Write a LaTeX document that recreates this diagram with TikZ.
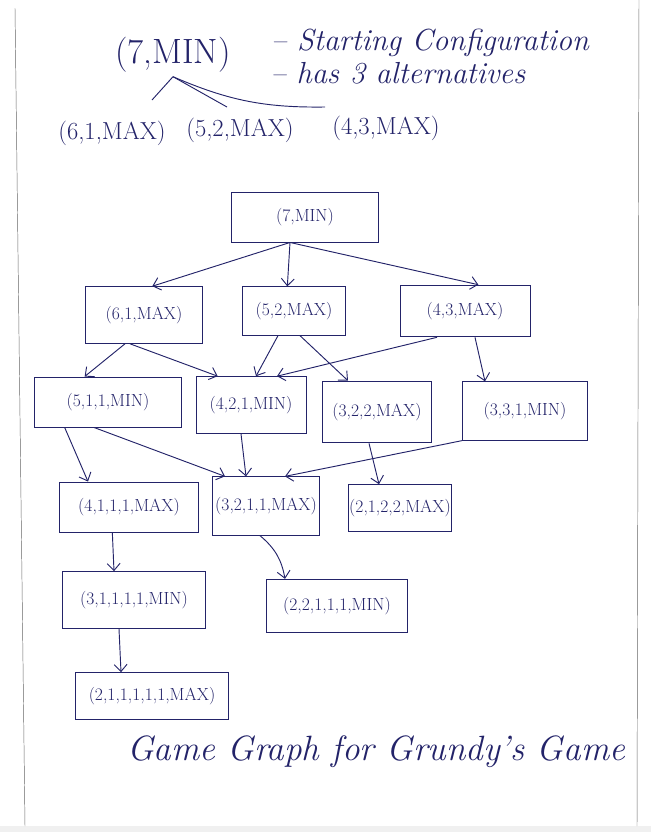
\documentclass[tikz,border=0pt]{standalone}
\usepackage{tikz}
\usetikzlibrary{arrows.meta}

\definecolor{ink}{RGB}{35,35,105}

\tikzset{
  state/.style={draw=ink, thick, text=ink, inner sep=1pt, font=\fontsize{15}{18}\selectfont},
  move/.style={draw=ink, thick, -{Straight Barb[length=6pt,width=11pt]}},
  note/.style={text=ink, font=\fontsize{26}{30}\selectfont\itshape},
  alt/.style={text=ink, font=\fontsize{21}{25}\selectfont},
}

\begin{document}
\begin{tikzpicture}[x=0.03cm,y=-0.03cm]
  \useasboundingbox (0,0) rectangle (651,832);
  % page edges
  \fill[gray!12] (0,826) rectangle (651,832);
  \draw[gray!80!black] (15,8) -- (25,826);
  \draw[gray!80!black] (639,0) -- (637,826);
  % header notes
  \node[text=ink, font=\fontsize{30}{34}\selectfont] (hmin) at (173,55) {(7,MIN)};
  \node[note] (hstart) at (430,43) {-- Starting Configuration};
  \node[note] (halt) at (398,73) {-- has 3 alternatives};
  \node[alt] (h61) at (112,133) {(6,1,MAX)};
  \node[alt] (h52) at (240,130) {(5,2,MAX)};
  \node[alt] (h43) at (386,128) {(4,3,MAX)};
  \coordinate (c61) at (152,100);
  \coordinate (c52) at (227,107);
  \coordinate (c43) at (325,107);
  \draw[ink, thick] (hmin.south) -- (c61);
  \draw[ink, thick] (hmin.south) -- (c52);
  \draw[ink, thick] (hmin.south) to[bend right=12] (c43);
  % game graph
  \node[state, minimum width=4.4cm, minimum height=1.5cm] (top) at (305,217) {(7,MIN)};
  \node[state, minimum width=3.5cm, minimum height=1.7cm] (n61) at (144,315) {(6,1,MAX)};
  \node[state, minimum width=3.1cm, minimum height=1.45cm] (n52) at (294,311) {(5,2,MAX)};
  \node[state, minimum width=3.9cm, minimum height=1.55cm] (n43) at (465,311) {(4,3,MAX)};
  \node[state, minimum width=4.4cm, minimum height=1.5cm] (n511) at (108,402) {(5,1,1,MIN)};
  \node[state, minimum width=3.3cm, minimum height=1.7cm] (n421) at (251,405) {(4,2,1,MIN)};
  \node[state, minimum width=3.25cm, minimum height=1.85cm] (n322) at (377,412) {(3,2,2,MAX)};
  \node[state, minimum width=3.75cm, minimum height=1.75cm] (n331) at (525,411) {(3,3,1,MIN)};
  \node[state, minimum width=4.15cm, minimum height=1.5cm] (n4111) at (129,507) {(4,1,1,1,MAX)};
  \node[state, minimum width=3.2cm, minimum height=1.75cm] (n3211) at (266,506) {(3,2,1,1,MAX)};
  \node[state, minimum width=2.9cm, minimum height=1.4cm] (n2122) at (400,508) {(2,1,2,2,MAX)};
  \node[state, minimum width=4.3cm, minimum height=1.7cm] (n31111) at (134,600) {(3,1,1,1,1,MIN)};
  \node[state, minimum width=4.25cm, minimum height=1.6cm] (n22111) at (337,606) {(2,2,1,1,1,MIN)};
  \node[state, minimum width=4.6cm, minimum height=1.4cm] (n211111) at (152,696) {(2,1,1,1,1,1,MAX)};
  % moves
  \draw[move] ([xshift=-0.45cm]top.south) -- ([xshift=0.25cm]n61.north);
  \draw[move] ([xshift=-0.45cm]top.south) -- ([xshift=-0.2cm]n52.north);
  \draw[move] ([xshift=-0.45cm]top.south) -- ([xshift=0.4cm]n43.north);
  \draw[move] ([xshift=-0.57cm]n61.south) -- ([xshift=-0.7cm]n511.north);
  \draw[move] ([xshift=-0.42cm]n61.south) -- ([xshift=-1cm]n421.north);
  \draw[move] ([xshift=-0.48cm]n52.south) -- ([xshift=0.15cm]n421.north);
  \draw[move] ([xshift=0.18cm]n52.south) -- ([xshift=-0.87cm]n322.north);
  \draw[move] ([xshift=-0.84cm]n43.south) -- ([xshift=0.78cm]n421.north);
  \draw[move] ([xshift=0.3cm]n43.south) -- ([xshift=-1.2cm]n331.north);
  \draw[move] ([xshift=-1.3cm]n511.south) -- ([xshift=-1.23cm]n4111.north);
  \draw[move] ([xshift=-0.42cm]n511.south) -- ([xshift=-1.23cm]n3211.north);
  \draw[move] ([xshift=-0.3cm]n421.south) -- ([xshift=-0.6cm]n3211.north);
  \draw[move] (n331.south west) -- ([xshift=0.57cm]n3211.north);
  \draw[move] ([xshift=-0.24cm]n322.south) -- ([xshift=-0.63cm]n2122.north);
  \draw[move] ([xshift=-0.5cm]n4111.south) -- ([xshift=-0.6cm]n31111.north);
  \draw[move] ([xshift=-0.18cm]n3211.south) to[bend left=20] ([xshift=-1.56cm]n22111.north);
  \draw[move] ([xshift=-0.45cm]n31111.south) -- ([xshift=-0.93cm]n211111.north);
  % caption
  \node[text=ink, font=\fontsize{30}{35}\selectfont\itshape] (foot) at (376,752) {Game Graph for Grundy's Game};
\end{tikzpicture}
\end{document}
